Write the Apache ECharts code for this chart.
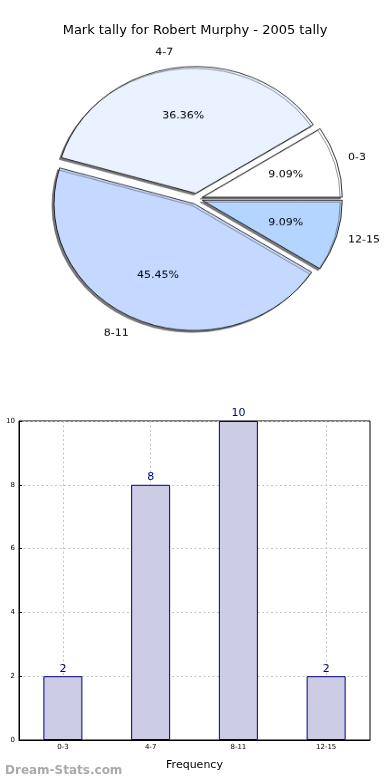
<!DOCTYPE html>
<html><head><meta charset="utf-8">
<script src="https://cdn.jsdelivr.net/npm/echarts@6/dist/echarts.min.js"></script>
<style>
html,body{margin:0;padding:0;background:#fff}
#wrap{position:relative;width:390px;height:780px}
#c{position:absolute;left:0;top:0;width:390px;height:780px}
#p{position:absolute;left:0;top:0;width:390px;height:400px;pointer-events:none;
   transform:scaleY(0.906);transform-origin:196.5px 198.7px}
</style>
</head><body><div id="wrap"><div id="c"></div><div id="p"></div></div>
<script>
const titleText = 'Mark tally for Robert Murphy - 2005 tally';
const categories = ['0-3', '4-7', '8-11', '12-15'];
const counts = [2, 8, 10, 2];
const sliceColors = ['#ffffff', '#eaf1ff', '#c5d8ff', '#b4d5ff'];
const yTicks = [0, 2, 4, 6, 8, 10];
const yName = 'Mark Occurrence';
const xName = 'Frequency';
const watermark = 'Dream-Stats.com';

const FONT = 'DejaVu Sans';
const total = counts.reduce((a, b) => a + b, 0);
const center = [196.5, 198.7];
const R = 140;

// measure label widths so that labels on the right start near the anchor (matplotlib left-aligns them)
const ctx = document.createElement('canvas').getContext('2d');
ctx.font = '11px "' + FONT + '"';
let acc = 0;
const ghostLabels = categories.map((c, i) => {
  const mid = (acc + counts[i] / 2) / total * 2 * Math.PI;
  acc += counts[i];
  const w = Math.ceil(ctx.measureText(c).width);
  const right = Math.cos(mid) > 0;
  return {name: c, value: counts[i], selected: true,
    itemStyle: {color: 'rgba(0,0,0,0)', borderWidth: 0},
    label: {padding: right ? [0, 0, 0, Math.max(0, w - 10)] : [0, w, 0, 0]}};
});
const pieData = categories.map((c, i) => ({name: c, value: counts[i], selected: true,
  itemStyle: {color: sliceColors[i]}}));
const ghost = categories.map((c, i) => ({name: c, value: counts[i], selected: true,
  itemStyle: {color: 'rgba(0,0,0,0)', borderWidth: 0}}));

const pie = echarts.init(document.getElementById('p'));
pie.setOption({
  animation: false,
  series: [
    {type: 'pie', center: center, radius: [0, R], startAngle: 0, clockwise: false,
     selectedMode: 'multiple', selectedOffset: 6, silent: true,
     itemStyle: {borderColor: '#000', borderWidth: 0.8, shadowColor: 'rgba(90,90,90,0.8)', shadowBlur: 0, shadowOffsetX: -2, shadowOffsetY: 2},
     label: {show: false}, labelLine: {show: false}, data: pieData, z: 1},
    {type: 'pie', center: center, radius: [R * 0.2, R], startAngle: 0, clockwise: false,
     selectedMode: 'multiple', selectedOffset: 6, silent: true,
     label: {show: true, position: 'inside', fontFamily: FONT, fontSize: 11, color: '#000',
       formatter: p => (p.value / total * 100).toFixed(2) + '%'},
     labelLine: {show: false}, data: ghost, z: 3},
    {type: 'pie', center: center, radius: [R, R * 1.2], startAngle: 0, clockwise: false,
     selectedMode: 'multiple', selectedOffset: 6, silent: true,
     label: {show: true, position: 'inside', formatter: '{b}', fontFamily: FONT, fontSize: 11, color: '#000'},
     labelLine: {show: false}, data: ghostLabels, z: 3}
  ]
});

const chart = echarts.init(document.getElementById('c'));
chart.setOption({
  animation: false,
  textStyle: {fontFamily: FONT},
  title: [
    {text: titleText, left: 'center', top: 19, textStyle: {fontFamily: FONT, fontSize: 13, fontWeight: 'normal', color: '#000'}},
    {text: watermark, left: 0, top: 760, textStyle: {fontFamily: FONT, fontSize: 12, fontWeight: 'bold', color: '#aaaaaa'}}
  ],
  series: [
    {type: 'bar', xAxisIndex: 0, yAxisIndex: 0, data: counts, barWidth: 39,
     itemStyle: {color: '#ccccE5', borderColor: '#000080', borderWidth: 1},
     label: {show: true, position: 'top', distance: 2, fontFamily: FONT, fontSize: 11, color: '#000080'}}
  ],
  grid: {left: 19, right: 20, top: 421, bottom: 40, containLabel: false, outerBoundsMode: 'none',
    show: true, borderColor: '#000', borderWidth: 1, backgroundColor: 'transparent'},
  xAxis: {type: 'category', data: categories, name: xName, nameLocation: 'middle', nameGap: 20,
    nameTextStyle: {fontFamily: FONT, fontSize: 11, color: '#000'},
    axisLine: {lineStyle: {color: '#000'}}, axisTick: {show: true, alignWithLabel: true, inside: true, length: 3, lineStyle: {color: '#000'}},
    axisLabel: {fontFamily: FONT, fontSize: 7, color: '#000', margin: 4},
    splitLine: {show: true, alignWithLabel: true, lineStyle: {color: '#c4c4c4', type: [2, 2.5]}}},
  yAxis: {type: 'value', min: 0, max: 10, interval: 2, name: yName, nameLocation: 'middle', nameGap: 18, nameRotate: 90,
    nameTextStyle: {fontFamily: FONT, fontSize: 8, color: '#000'},
    axisLine: {show: true, lineStyle: {color: '#000'}}, axisTick: {show: true, inside: true, length: 3, lineStyle: {color: '#000'}},
    axisLabel: {fontFamily: FONT, fontSize: 7, color: '#000', margin: 4,
      formatter: v => yTicks.includes(v) ? String(v) : ''},
    splitLine: {show: true, lineStyle: {color: '#c4c4c4', type: [2, 2.5]}}}
});
</script></body></html>
